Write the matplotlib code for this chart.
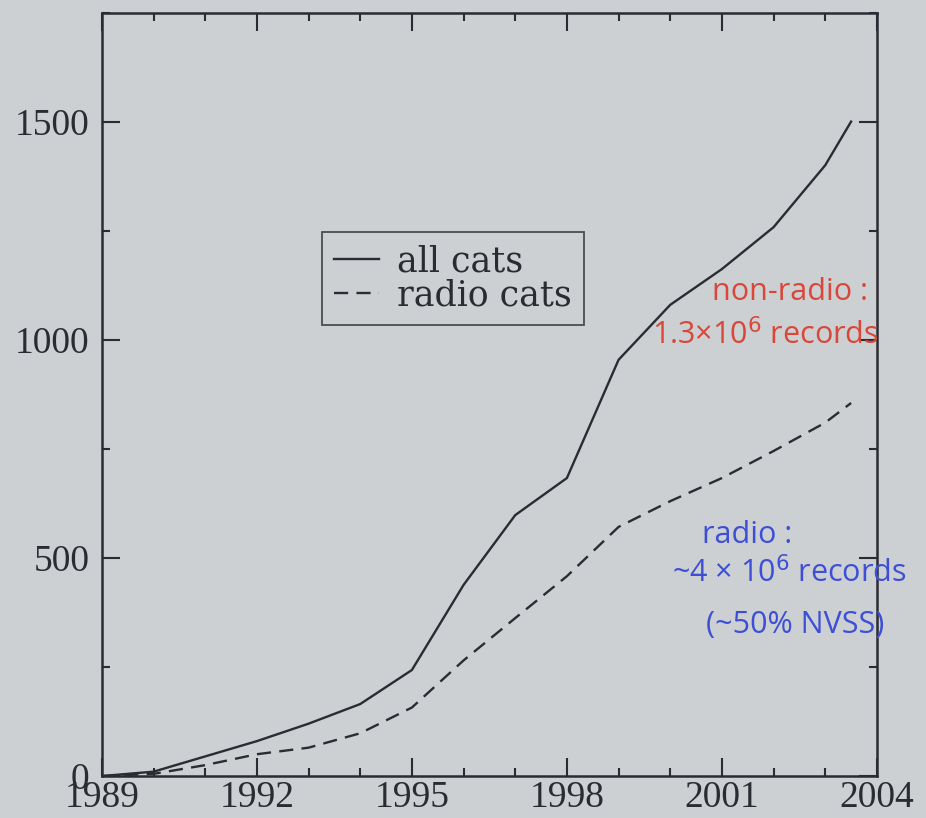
import matplotlib
matplotlib.use("Agg")
import matplotlib.pyplot as plt
from matplotlib.ticker import MultipleLocator

years = [1989, 1990, 1991, 1992, 1993, 1994, 1995, 1996, 1997, 1998, 1999, 2000, 2001, 2002, 2003, 2003.5]
all_cats = [0, 10, 45, 80, 120, 165, 243, 438, 598, 683, 954, 1080, 1162, 1258, 1400, 1500]
radio_cats = [0, 5, 25, 50, 65, 98, 157, 265, 362, 458, 571, 630, 683, 745, 810, 855]
x_ticks = [1989, 1992, 1995, 1998, 2001, 2004]
y_ticks = [0, 500, 1000, 1500]

bg = "#cdd0d2"
ink = "#2a2c33"
plt.rcParams['font.family'] = ['Liberation Serif', 'DejaVu Serif']

fig = plt.figure(figsize=(9.26, 8.18), dpi=100, facecolor=bg)
ax = fig.add_axes([0.110, 0.0513, 0.837, 0.9334])
ax.set_facecolor(bg)

ax.plot(years, all_cats, color=ink, lw=1.7, label="all cats")
ax.plot(years, radio_cats, color=ink, lw=1.7, ls=(0, (6, 3.5)), label="radio cats")

ax.set_xlim(1989, 2004)
ax.set_ylim(0, 1750)
ax.set_xticks(x_ticks)
ax.set_yticks(y_ticks)
ax.xaxis.set_minor_locator(MultipleLocator(1))
ax.yaxis.set_minor_locator(MultipleLocator(250))
ax.tick_params(which="both", direction="in", top=True, right=True, color=ink, width=1.5)
ax.tick_params(which="major", length=13, labelsize=27, labelcolor=ink)
ax.tick_params(axis="y", which="major", pad=9)
ax.tick_params(axis="x", which="major", pad=3)
ax.tick_params(which="minor", length=6)
for s in ax.spines.values():
    s.set_linewidth(1.8)
    s.set_color(ink)

leg = ax.legend(loc="upper left", bbox_to_anchor=(0.284, 0.712),
                prop={"family": "DejaVu Serif", "size": 25},
                frameon=True, fancybox=False, edgecolor=ink, facecolor=bg,
                handlelength=1.3, handletextpad=0.5, borderpad=0.35, labelspacing=0.0,
                borderaxespad=0)
leg.get_frame().set_linewidth(1.3)
for t in leg.get_texts():
    t.set_color(ink)

red = "#d8473a"
blue = "#3d4fd6"
hand = dict(family=["Open Sans", "DejaVu Sans"], fontsize=22)
ax.text(2002.31, 1110, "non-radio :", color=red, ha="center", va="center", **hand)
ax.text(2001.85, 1011, "1.3×10$^6$ records", color=red, ha="center", va="center", **hand)
ax.text(2001.48, 553, "radio :", color=blue, ha="center", va="center", **hand)
ax.text(2002.30, 466, "~4 × 10$^6$ records", color=blue, ha="center", va="center", **hand)
ax.text(2002.41, 346, "(~50% NVSS)", color=blue, ha="center", va="center", **hand)

fig.savefig("out.png", dpi=100, facecolor=bg)
